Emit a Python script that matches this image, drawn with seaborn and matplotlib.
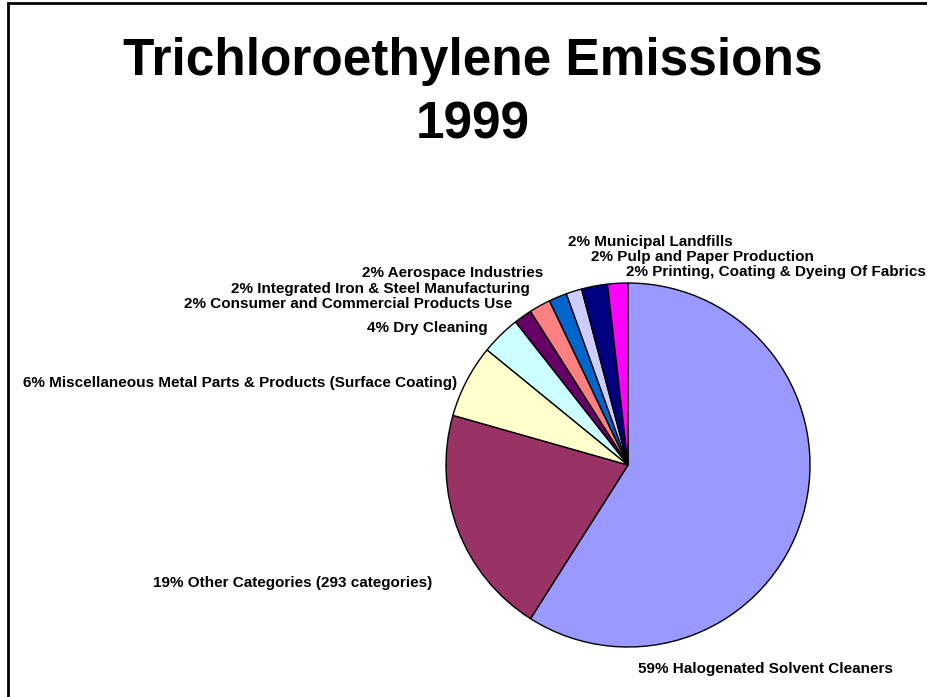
import matplotlib
matplotlib.use("Agg")
import matplotlib.pyplot as plt
from matplotlib.patches import Rectangle
import seaborn as sns

sns.set_style("white")
plt.rcParams['font.family'] = ['Liberation Sans', 'DejaVu Sans']

# data (clockwise from 12 o'clock)
categories = [
    "Halogenated Solvent Cleaners",
    "Other Categories (293 categories)",
    "Miscellaneous Metal Parts & Products (Surface Coating)",
    "Dry Cleaning",
    "Consumer and Commercial Products Use",
    "Integrated Iron & Steel Manufacturing",
    "Aerospace Industries",
    "Municipal Landfills",
    "Pulp and Paper Production",
    "Printing, Coating & Dyeing Of Fabrics",
]
shares = [59.0, 20.4, 6.5, 3.5, 1.6, 1.9, 1.6, 1.4, 2.3, 1.8]
pct_labels = ["59%", "19%", "6%", "4%", "2%", "2%", "2%", "2%", "2%", "2%"]
colors = sns.color_palette(["#9999FF", "#993366", "#FFFFCC", "#CCFFFF", "#660066",
                            "#FF8080", "#0066CC", "#CCCCFF", "#000080", "#FF00FF"])

W, H = 927, 697
fig = plt.figure(figsize=(W / 100, H / 100), dpi=100)
ax = fig.add_axes([0, 0, 1, 1])

ax.pie(shares, colors=colors, startangle=90, counterclock=False,
       center=(628, H - 465), radius=182,
       wedgeprops=dict(edgecolor="black", linewidth=1.0))

# pie() resets the limits, so set pixel space afterwards
ax.set_xlim(0, W)
ax.set_ylim(0, H)
ax.set_aspect("equal")
ax.axis("off")

# label anchors in pixel space (x, y from top, alignment)
label_pos = [
    (638, 669, "left"),
    (432, 583, "right"),
    (457, 383, "right"),
    (488, 328, "right"),
    (512, 304, "right"),
    (530, 289, "right"),
    (543, 273, "right"),
    (568, 242, "left"),
    (591, 257, "left"),
    (626, 272, "left"),
]
for cat, pct, (x, y, ha) in zip(categories, pct_labels, label_pos):
    ax.text(x, H - y, f"{pct} {cat}", ha=ha, va="center",
            fontsize=11, fontweight="bold", color="black")

fig.text(473 / W, 1 - 62 / H, "Trichloroethylene Emissions", ha="center", va="center",
         fontsize=37, fontweight="bold", color="black")
fig.text(473 / W, 1 - 125 / H, "1999", ha="center", va="center",
         fontsize=37, fontweight="bold", color="black")

# slide frame
fig.patches.append(Rectangle((8 / W, -0.05), 1.2, 1 - 3 / H + 0.05, transform=fig.transFigure,
                             fill=False, edgecolor="black", linewidth=2))

fig.savefig("out.png", dpi=100, facecolor="white")
